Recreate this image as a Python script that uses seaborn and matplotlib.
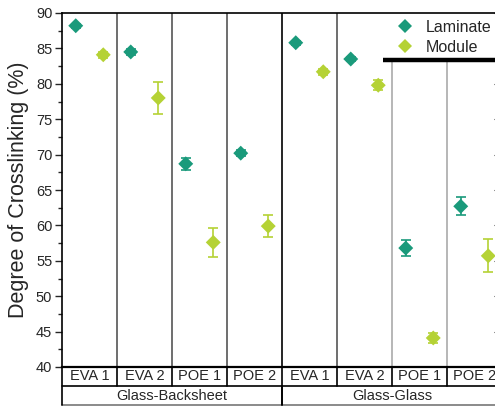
import seaborn as sns
import pandas as pd
import matplotlib.pyplot as plt
import numpy as np

categories = ['EVA 1', 'EVA 2', 'POE 1', 'POE 2', 'EVA 1', 'EVA 2', 'POE 1', 'POE 2']
groups = ['Glass-Backsheet', 'Glass-Glass']
group_sizes = [4, 4]
laminate = [88.2, 84.5, 68.7, 70.2, 85.8, 83.5, 56.8, 62.7]
laminate_err = [0.3, 0.4, 0.85, 0.4, 0.3, 0.3, 1.1, 1.3]
module = [84.1, 78.0, 57.6, 59.9, 81.7, 79.8, 44.1, 55.7]
module_err = [0.4, 2.3, 2.05, 1.6, 0.4, 0.7, 0.75, 2.35]

sns.set_style('ticks')
plt.rcParams['font.family'] = ['Liberation Sans', 'DejaVu Sans']

colors = {'Laminate': '#1a9a7b', 'Module': '#b5d235'}
pos = np.arange(len(categories))
df = pd.concat([
    pd.DataFrame({'x': pos - 0.25, 'value': laminate, 'err': laminate_err, 'series': 'Laminate'}),
    pd.DataFrame({'x': pos + 0.25, 'value': module, 'err': module_err, 'series': 'Module'}),
])

fig = plt.figure(figsize=(4.95, 4.07), dpi=100)
ax = fig.add_axes([62 / 495, 1 - 367 / 407, 440 / 495, 354 / 407])

for name, sub in df.groupby('series'):
    ax.errorbar(sub['x'], sub['value'], yerr=sub['err'], fmt='none', ecolor=colors[name],
                elinewidth=1.2, capsize=3.5, capthick=1.2, zorder=3)
sns.scatterplot(data=df, x='x', y='value', hue='series', palette=colors, marker='D',
                s=58, linewidth=0, ax=ax, zorder=4)

ax.set_xlim(-0.5, len(categories) - 0.5)
ax.set_ylim(40, 90)
ax.set_yticks(np.arange(40, 91, 5))
ax.set_yticks(np.arange(40, 90, 2.5), minor=True)
ax.tick_params(axis='y', which='major', length=5, width=1, direction='out', labelsize=10.5, pad=2)
ax.tick_params(axis='y', which='minor', length=3, width=1, direction='out')
ax.set_xticks([])
ax.set_xlabel('')
ax.set_ylabel('Degree of Crosslinking (%)', fontsize=15.5, labelpad=5)
for s in ax.spines.values():
    s.set_linewidth(1.2)
    s.set_color('black')
ax.spines['bottom'].set_linewidth(1.6)

sec = ax.secondary_yaxis('right')
sec.set_yticks(np.arange(40, 91, 5))
sec.tick_params(direction='in', length=6, labelright=False)

# column separators
edges = np.arange(len(categories) - 1) + 0.5
group_edge = group_sizes[0] - 0.5
for e in edges:
    if e == group_edge:
        ax.axvline(e, color='black', lw=1.2, zorder=1)
    elif e > group_edge + 1:
        ax.axvline(e, ymax=0.868, color='#aaaaaa', lw=1.2, zorder=1)
    else:
        ax.axvline(e, color='#555555', lw=1.2, zorder=1)

# black bar under the legend
ax.plot([5.34, 7.5], [83.4, 83.4], color='black', lw=3.2, solid_capstyle='butt', zorder=8)

# table under the axis
trans = ax.get_xaxis_transform()
row1 = -19 / 354
row2 = -38 / 354
ax.plot([-0.5, 7.5], [row1, row1], transform=trans, color='black', lw=1.2, clip_on=False)
ax.plot([-0.5, 7.5], [row2, row2], transform=trans, color='#777777', lw=1.2, clip_on=False)
ax.plot([-0.5, -0.5], [0, row2], transform=trans, color='black', lw=1.2, clip_on=False)
for e in edges:
    ax.plot([e, e], [0, row1], transform=trans, color='black', lw=1.2, clip_on=False)
ax.plot([group_edge, group_edge], [row1, row2], transform=trans, color='black', lw=1.4, clip_on=False)
for i, c in enumerate(categories):
    ax.text(i, row1 / 2, c, transform=trans, ha='center', va='center', fontsize=10.5)
start = 0
for g, n in zip(groups, group_sizes):
    ax.text(start + (n - 1) / 2, (row1 + row2) / 2, g, transform=trans, ha='center', va='center', fontsize=10.5)
    start += n

leg = ax.legend(loc='upper left', bbox_to_anchor=(392 / 495, 1 - 15 / 407), bbox_transform=fig.transFigure,
                frameon=True, fontsize=11.5, handlelength=1.0, handletextpad=0.8, borderpad=0.3,
                borderaxespad=0, labelspacing=0.3)
leg.get_frame().set_facecolor('white')
leg.get_frame().set_edgecolor('none')
leg.get_frame().set_alpha(1)
leg.set_zorder(6)

fig.savefig('out.png', dpi=100)
